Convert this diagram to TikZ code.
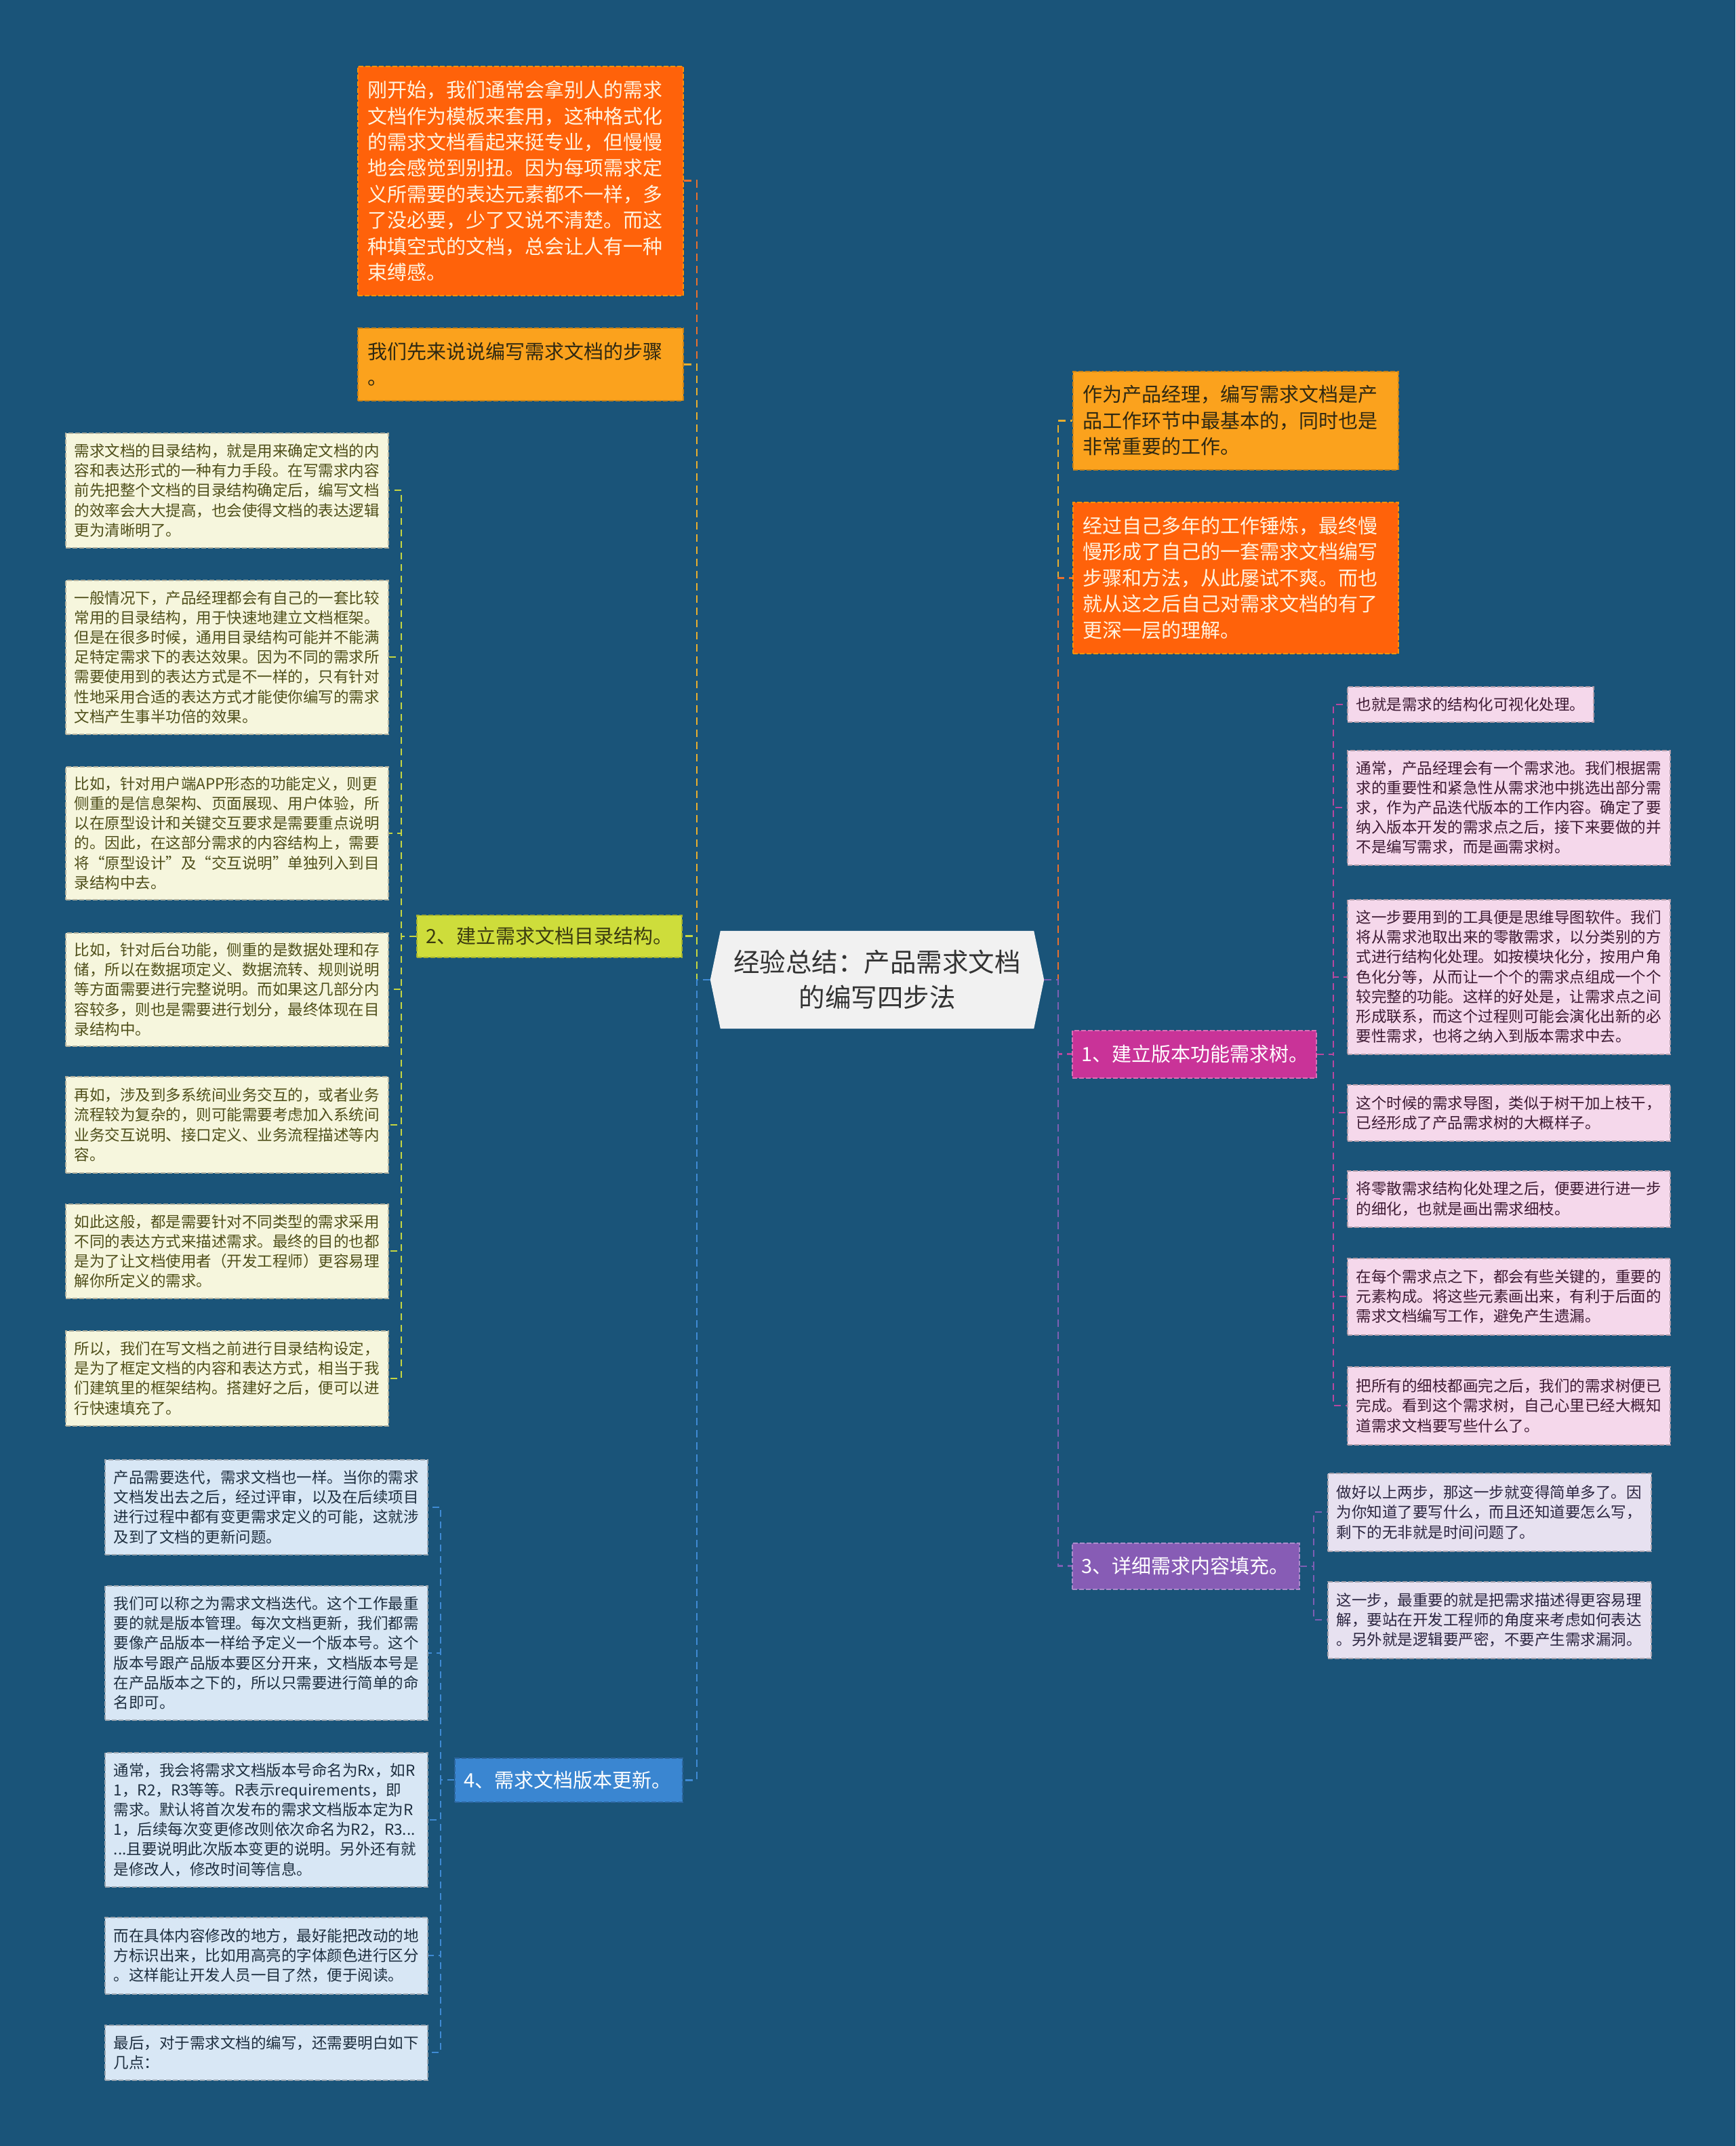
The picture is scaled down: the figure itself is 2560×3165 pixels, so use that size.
\documentclass[tikz,border=0pt]{standalone}
\usepackage{fontspec}
\setmainfont{Noto Sans CJK SC}
\pgfdeclarelayer{bg}
\pgfsetlayers{bg,main}
\definecolor{bgc}{HTML}{1A5479}
\definecolor{orgf}{HTML}{FF620A}
\definecolor{ambf}{HTML}{FBA21D}
\definecolor{limef}{HTML}{CEDD3B}
\definecolor{creamf}{HTML}{F6F6DD}
\definecolor{bluef}{HTML}{3A86D1}
\definecolor{lbluef}{HTML}{D8E7F5}
\definecolor{magf}{HTML}{C93398}
\definecolor{pinkf}{HTML}{F5D8EB}
\definecolor{purf}{HTML}{875CB5}
\definecolor{lavf}{HTML}{E7E1F0}
\definecolor{cenf}{HTML}{F1F1F1}
\definecolor{lighttxt}{HTML}{FFF3DF}
\definecolor{darktxt}{HTML}{2E2812}
\definecolor{limetxt}{HTML}{3B3B10}
\definecolor{creamtxt}{HTML}{4F4F1A}
\definecolor{lbluetxt}{HTML}{1E2F40}
\definecolor{pinktxt}{HTML}{3D1A33}
\definecolor{lavtxt}{HTML}{2B2540}
\definecolor{orgline}{HTML}{E8702E}
\definecolor{ambline}{HTML}{E9AE2E}
\definecolor{limeline}{HTML}{C6D640}
\definecolor{blueline}{HTML}{3F8AD4}
\definecolor{magline}{HTML}{B8479F}
\definecolor{purline}{HTML}{7E5EB3}
\tikzset{
  box/.style={anchor=north west, inner xsep=13pt, inner ysep=0pt, align=left,
    draw, dash pattern=on 7pt off 3pt, line width=1.5pt},
  smalltxt/.style={font=\fontsize{22.5}{29.2}\selectfont},
  bigtxt/.style={font=\fontsize{29}{38.4}\selectfont, inner xsep=15pt},
  steptxt/.style={font=\fontsize{29}{34}\selectfont, inner xsep=14pt},
  orgbox/.style={box, bigtxt, fill=orgf, draw=orgf!70!yellow, text=lighttxt},
  ambbox/.style={box, bigtxt, fill=ambf, draw=ambf!80!black, text=darktxt},
  limebox/.style={box, steptxt, fill=limef, draw=limef!80!black, text=limetxt},
  bluebox/.style={box, steptxt, fill=bluef, draw=bluef!75!black, text=white},
  magbox/.style={box, steptxt, fill=magf, draw=magf!70!white, text=white},
  purbox/.style={box, steptxt, fill=purf, draw=purf!70!white, text=white},
  creambox/.style={box, smalltxt, fill=creamf, draw=creamf!72!black, text=creamtxt},
  lbluebox/.style={box, smalltxt, fill=lbluef, draw=lbluef!72!black, text=lbluetxt},
  pinkbox/.style={box, smalltxt, fill=pinkf, draw=pinkf!72!black, text=pinktxt},
  lavbox/.style={box, smalltxt, fill=lavf, draw=lavf!72!black, text=lavtxt},
  cnode/.style={minimum width=492pt, minimum height=144pt, inner sep=0pt, align=center,
    font=\fontsize{38.5}{52}\selectfont, text=black!80},
  conn/.style={dash pattern=on 11pt off 7pt, line width=2.6pt},
  sconn/.style={dash pattern=on 10pt off 7pt, line width=2.2pt},
}
\begin{document}
\begin{tikzpicture}[x=1pt,y=-1pt]
\begin{pgfonlayer}{bg}
\fill[bgc] (0,0) rectangle (2560,3165);
\end{pgfonlayer}
\useasboundingbox (0,0) rectangle (2560,3165);

% central node
\node[cnode] (c) at (1294,1445) {经验总结：产品需求文档\\的编写四步法};
\begin{pgfonlayer}{bg}
\fill[cenf] ([xshift=15pt]c.north west) -- ([xshift=-15pt]c.north east) -- (c.east)
  -- ([xshift=-15pt]c.south east) -- ([xshift=15pt]c.south west) -- (c.west) -- cycle;
\end{pgfonlayer}

% left top boxes
\node[orgbox, text width=450pt, minimum height=338pt] (A1) at (527,97) {刚开始，我们通常会拿别人的需求\\文档作为模板来套用，这种格式化\\的需求文档看起来挺专业，但慢慢\\地会感觉到别扭。因为每项需求定\\义所需要的表达元素都不一样，多\\了没必要，少了又说不清楚。而这\\种填空式的文档，总会让人有一种\\束缚感。};
\node[ambbox, text width=450pt, minimum height=107pt] (A2) at (527,483) {我们先来说说编写需求文档的步骤\\。};

% right top boxes
\node[ambbox, text width=450pt, minimum height=145pt] (R1) at (1582,547) {作为产品经理，编写需求文档是产\\品工作环节中最基本的，同时也是\\非常重要的工作。};
\node[orgbox, text width=450pt, minimum height=223pt] (R2) at (1582,740) {经过自己多年的工作锤炼，最终慢\\慢形成了自己的一套需求文档编写\\步骤和方法，从此屡试不爽。而也\\就从这之后自己对需求文档的有了\\更深一层的理解。};

% step nodes
\node[limebox, text width=363pt, minimum height=62pt] (S2) at (614,1349) {2、建立需求文档目录结构。};
\node[bluebox, text width=308pt, minimum height=65pt] (S4) at (670,2592) {4、需求文档版本更新。};
\node[magbox, text width=332pt, minimum height=70pt] (S1) at (1581,1519) {1、建立版本功能需求树。};
\node[purbox, text width=307pt, minimum height=68pt] (S3) at (1581,2275) {3、详细需求内容填充。};

% step 2 children
\node[creambox, text width=450pt, minimum height=169pt] (c1) at (96,638) {需求文档的目录结构，就是用来确定文档的内\\容和表达形式的一种有力手段。在写需求内容\\前先把整个文档的目录结构确定后，编写文档\\的效率会大大提高，也会使得文档的表达逻辑\\更为清晰明了。};
\node[creambox, text width=450pt, minimum height=227pt] (c2) at (96,855) {一般情况下，产品经理都会有自己的一套比较\\常用的目录结构，用于快速地建立文档框架。\\但是在很多时候，通用目录结构可能并不能满\\足特定需求下的表达效果。因为不同的需求所\\需要使用到的表达方式是不一样的，只有针对\\性地采用合适的表达方式才能使你编写的需求\\文档产生事半功倍的效果。};
\node[creambox, text width=450pt, minimum height=196pt] (c3) at (96,1130) {比如，针对用户端APP形态的功能定义，则更\\侧重的是信息架构、页面展现、用户体验，所\\以在原型设计和关键交互要求是需要重点说明\\的。因此，在这部分需求的内容结构上，需要\\将“原型设计”及“交互说明”单独列入到目\\录结构中去。};
\node[creambox, text width=450pt, minimum height=167pt] (c4) at (96,1375) {比如，针对后台功能，侧重的是数据处理和存\\储，所以在数据项定义、数据流转、规则说明\\等方面需要进行完整说明。而如果这几部分内\\容较多，则也是需要进行划分，最终体现在目\\录结构中。};
\node[creambox, text width=450pt, minimum height=142pt] (c5) at (96,1587) {再如，涉及到多系统间业务交互的，或者业务\\流程较为复杂的，则可能需要考虑加入系统间\\业务交互说明、接口定义、业务流程描述等内\\容。};
\node[creambox, text width=450pt, minimum height=139pt] (c6) at (96,1775) {如此这般，都是需要针对不同类型的需求采用\\不同的表达方式来描述需求。最终的目的也都\\是为了让文档使用者（开发工程师）更容易理\\解你所定义的需求。};
\node[creambox, text width=450pt, minimum height=140pt] (c7) at (96,1962) {所以，我们在写文档之前进行目录结构设定，\\是为了框定文档的内容和表达方式，相当于我\\们建筑里的框架结构。搭建好之后，便可以进\\行快速填充了。};

% step 4 children
\node[lbluebox, text width=450pt, minimum height=140pt] (d1) at (154,2152) {产品需要迭代，需求文档也一样。当你的需求\\文档发出去之后，经过评审，以及在后续项目\\进行过程中都有变更需求定义的可能，这就涉\\及到了文档的更新问题。};
\node[lbluebox, text width=450pt, minimum height=198pt] (d2) at (154,2338) {我们可以称之为需求文档迭代。这个工作最重\\要的就是版本管理。每次文档更新，我们都需\\要像产品版本一样给予定义一个版本号。这个\\版本号跟产品版本要区分开来，文档版本号是\\在产品版本之下的，所以只需要进行简单的命\\名即可。};
\node[lbluebox, text width=450pt, minimum height=198pt] (d3) at (154,2584) {通常，我会将需求文档版本号命名为Rx，如R\\1，R2，R3等等。R表示requirements，即\\需求。默认将首次发布的需求文档版本定为R\\1，后续每次变更修改则依次命名为R2，R3...\\...且要说明此次版本变更的说明。另外还有就\\是修改人，修改时间等信息。};
\node[lbluebox, text width=450pt, minimum height=113pt] (d4) at (154,2827) {而在具体内容修改的地方，最好能把改动的地\\方标识出来，比如用高亮的字体颜色进行区分\\。这样能让开发人员一目了然，便于阅读。};
\node[lbluebox, text width=450pt, minimum height=81pt] (d5) at (154,2986) {最后，对于需求文档的编写，还需要明白如下\\几点：};

% step 1 children
\node[pinkbox, text width=337pt, minimum height=52pt] (p1) at (1987,1012) {也就是需求的结构化可视化处理。};
\node[pinkbox, text width=450pt, minimum height=169pt] (p2) at (1987,1106) {通常，产品经理会有一个需求池。我们根据需\\求的重要性和紧急性从需求池中挑选出部分需\\求，作为产品迭代版本的工作内容。确定了要\\纳入版本开发的需求点之后，接下来要做的并\\不是编写需求，而是画需求树。};
\node[pinkbox, text width=450pt, minimum height=228pt] (p3) at (1987,1326) {这一步要用到的工具便是思维导图软件。我们\\将从需求池取出来的零散需求，以分类别的方\\式进行结构化处理。如按模块化分，按用户角\\色化分等，从而让一个个的需求点组成一个个\\较完整的功能。这样的好处是，让需求点之间\\形成联系，而这个过程则可能会演化出新的必\\要性需求，也将之纳入到版本需求中去。};
\node[pinkbox, text width=450pt, minimum height=83pt] (p4) at (1987,1599) {这个时候的需求导图，类似于树干加上枝干，\\已经形成了产品需求树的大概样子。};
\node[pinkbox, text width=450pt, minimum height=83pt] (p5) at (1987,1726) {将零散需求结构化处理之后，便要进行进一步\\的细化，也就是画出需求细枝。};
\node[pinkbox, text width=450pt, minimum height=113pt] (p6) at (1987,1855) {在每个需求点之下，都会有些关键的，重要的\\元素构成。将这些元素画出来，有利于后面的\\需求文档编写工作，避免产生遗漏。};
\node[pinkbox, text width=450pt, minimum height=115pt] (p7) at (1987,2015) {把所有的细枝都画完之后，我们的需求树便已\\完成。看到这个需求树，自己心里已经大概知\\道需求文档要写些什么了。};

% step 3 children
\node[lavbox, text width=451pt, minimum height=115pt] (q1) at (1958,2172) {做好以上两步，那这一步就变得简单多了。因\\为你知道了要写什么，而且还知道要怎么写，\\剩下的无非就是时间问题了。};
\node[lavbox, text width=451pt, minimum height=113pt] (q2) at (1958,2332) {这一步，最重要的就是把需求描述得更容易理\\解，要站在开发工程师的角度来考虑如何表达\\。另外就是逻辑要严密，不要产生需求漏洞。};

% trunk coordinates
\coordinate (LT) at (1028,1445);
\coordinate (RT) at (1561,1445);
\coordinate (T2) at (592,0);
\coordinate (T4) at (650,0);
\coordinate (T1) at (1967,0);
\coordinate (T3) at (1938,0);

% main connectors, left
\draw[conn, orgline] (c.west) -- (LT) |- (A1.east);
\draw[conn, ambline] (c.west) -- (LT) |- (A2.east);
\draw[conn, limeline] (c.west) -- (LT) |- (S2.east);
\draw[conn, blueline] (c.west) -- (LT) |- (S4.east);
% main connectors, right
\draw[conn, ambline] (c.east) -- (RT) |- (R1.west);
\draw[conn, orgline] (c.east) -- (RT) |- (R2.west);
\draw[conn, magline] (c.east) -- (RT) |- (S1.west);
\draw[conn, purline] (c.east) -- (RT) |- (S3.west);

% step 2 children connectors
\foreach \n in {c1,c2,c3,c4,c5,c6,c7}
  \draw[sconn, limeline] (S2.west) -- (S2.west -| T2) |- (\n.east);
% step 4 children connectors
\foreach \n in {d1,d2,d3,d4,d5}
  \draw[sconn, blueline] (S4.west) -- (S4.west -| T4) |- (\n.east);
% step 1 children connectors
\foreach \n in {p1,p2,p3,p4,p5,p6,p7}
  \draw[sconn, magline] (S1.east) -- (S1.east -| T1) |- (\n.west);
% step 3 children connectors
\foreach \n in {q1,q2}
  \draw[sconn, purline] (S3.east) -- (S3.east -| T3) |- (\n.west);
\end{tikzpicture}
\end{document}
